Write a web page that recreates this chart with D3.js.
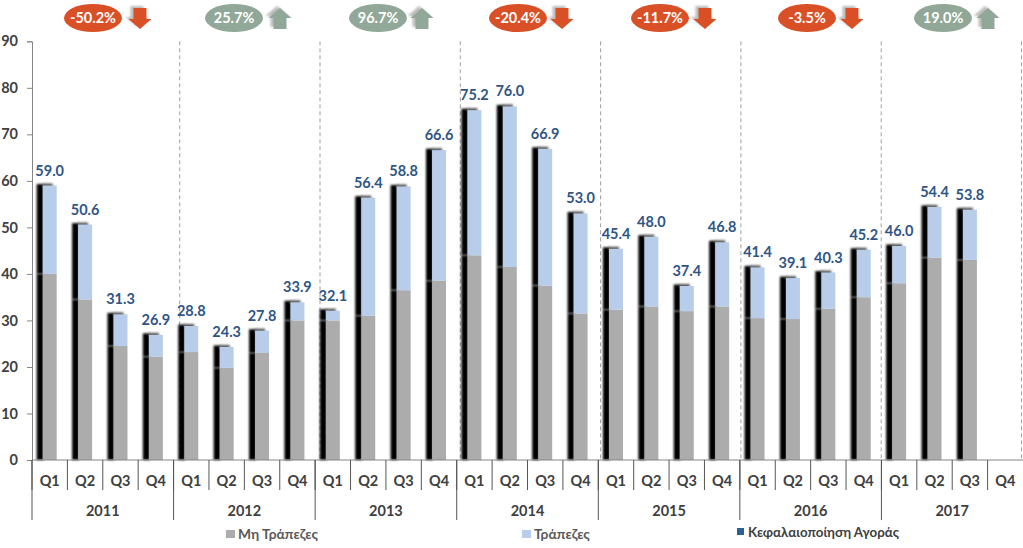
<!DOCTYPE html>
<html>
<head>
  <meta charset="utf-8">
  <title>Κεφαλαιοποίηση Αγοράς</title>
  <script src="https://d3js.org/d3.v7.min.js"></script>
  <style>
    html, body { margin: 0; padding: 0; background: #fff; }
    svg { display: block; }
    text { font-family: Lato, "Noto Sans", sans-serif; font-weight: 700; }
  </style>
</head>
<body>
<script>
  var years = ["2011", "2012", "2013", "2014", "2015", "2016", "2017"];
  var quarters = ["Q1", "Q2", "Q3", "Q4"];

  // one entry per quarter, 2011 Q1 to 2017 Q4 (the last one has no data yet)
  var nonBanks = [40.0, 34.5, 24.5, 22.2, 23.2, 19.8, 23.0, 30.0, 30.0, 31.0, 36.5, 38.5, 44.0, 41.5,
                  37.5, 31.5, 32.3, 33.0, 32.0, 33.0, 30.5, 30.3, 32.5, 35.0, 38.0, 43.5, 43.0, null];
  var banks = [19.0, 16.1, 6.8, 4.7, 5.6, 4.5, 4.8, 3.9, 2.1, 25.4, 22.3, 28.1, 31.2, 34.5,
               29.4, 21.5, 13.1, 15.0, 5.4, 13.8, 10.9, 8.8, 7.8, 10.2, 8.0, 10.9, 10.8, null];
  var totals = [59.0, 50.6, 31.3, 26.9, 28.8, 24.3, 27.8, 33.9, 32.1, 56.4, 58.8, 66.6, 75.2, 76.0,
                66.9, 53.0, 45.4, 48.0, 37.4, 46.8, 41.4, 39.1, 40.3, 45.2, 46.0, 54.4, 53.8, null];

  var yearChanges = ["-50.2%", "25.7%", "96.7%", "-20.4%", "-11.7%", "-3.5%", "19.0%"];
  var yTicks = [0, 10, 20, 30, 40, 50, 60, 70, 80, 90];
  var legendNames = ["Μη Τράπεζες", "Τράπεζες", "Κεφαλαιοποίηση Αγοράς"];

  // the badges were placed by hand in the original, not on the year centres
  var badgeCentres = [93, 234, 378, 518, 660, 807, 943];
  var arrowCentres = [140, 280, 422, 562, 705, 852, 988];

  var width = 1023, height = 548;
  var axisLeft = 32, axisRight = 1023, axisBottom = 460, axisTop = 41.3;
  var RED = "#da5026", GREEN = "#91a898", GREY = "#acacac", BLUE = "#b7cde9", TEXT = "#404040";

  var svg = d3.select("body").append("svg")
    .attr("width", width)
    .attr("height", height);

  var defs = svg.append("defs");
  defs.append("filter").attr("id", "soft")
    .attr("x", "-60%").attr("y", "-40%").attr("width", "220%").attr("height", "180%")
    .append("feGaussianBlur").attr("stdDeviation", 0.9);
  defs.append("filter").attr("id", "softer")
    .attr("x", "-40%").attr("y", "-40%").attr("width", "180%").attr("height", "180%")
    .append("feGaussianBlur").attr("stdDeviation", 1.2);

  var labels = [];
  years.forEach(function(y) {
    quarters.forEach(function(q) { labels.push(y + " " + q); });
  });

  var x = d3.scaleBand().domain(labels).range([axisLeft, axisRight]);
  var yearX = d3.scaleBand().domain(years).range([axisLeft, axisRight]);
  var y = d3.scaleLinear().domain([0, 90]).range([axisBottom, axisTop]);
  // the dashed separators sit a little off the year ticks
  var dashX = d3.scaleLinear().domain([1, 7]).range([179.7, 1021.5]);

  var barWidth = 14, shadowOffset = 6;
  function barLeft(i) { return x(labels[i]) + (x.bandwidth() - barWidth) / 2; }

  // dashed year separators
  svg.append("g").selectAll("line")
    .data(d3.range(1, 8))
    .enter().append("line")
    .attr("x1", function(d) { return dashX(d); })
    .attr("x2", function(d) { return dashX(d); })
    .attr("y1", y(90))
    .attr("y2", y(0))
    .style("stroke", "#a0a0a0")
    .style("stroke-dasharray", "4 3");

  // build the two segments of each stack
  var rows = labels.map(function(l, i) {
    return { i: i, nonBanks: nonBanks[i], banks: banks[i], total: totals[i] };
  }).filter(function(d) { return d.total !== null; });

  var bars = svg.append("g");

  // black shadow to the left, segment by segment so the seam shows
  bars.selectAll(".shadow-low")
    .data(rows).enter().append("rect")
    .attr("class", "shadow-low")
    .attr("x", function(d) { return barLeft(d.i) - shadowOffset; })
    .attr("width", shadowOffset + 1)
    .attr("y", function(d) { return y(d.nonBanks); })
    .attr("height", function(d) { return y(0) - y(d.nonBanks); })
    .attr("filter", "url(#soft)")
    .style("fill", "#000");

  bars.selectAll(".shadow-high")
    .data(rows).enter().append("rect")
    .attr("class", "shadow-high")
    .attr("x", function(d) { return barLeft(d.i) - shadowOffset; })
    .attr("width", shadowOffset + 1)
    .attr("y", function(d) { return y(d.total) - 1.5; })
    .attr("height", function(d) { return y(d.nonBanks) - y(d.total) + 1.5; })
    .attr("filter", "url(#soft)")
    .style("fill", "#000");

  bars.selectAll(".cap")
    .data(rows).enter().append("rect")
    .attr("class", "cap")
    .attr("x", function(d) { return barLeft(d.i); })
    .attr("width", barWidth - 4)
    .attr("y", function(d) { return y(d.total) - 2; })
    .attr("height", 4)
    .attr("filter", "url(#soft)")
    .style("fill", "#555");

  bars.selectAll(".non-banks")
    .data(rows).enter().append("rect")
    .attr("class", "non-banks")
    .attr("x", function(d) { return barLeft(d.i); })
    .attr("width", barWidth)
    .attr("y", function(d) { return y(d.nonBanks); })
    .attr("height", function(d) { return y(0) - y(d.nonBanks); })
    .style("fill", GREY);

  bars.selectAll(".banks")
    .data(rows).enter().append("rect")
    .attr("class", "banks")
    .attr("x", function(d) { return barLeft(d.i); })
    .attr("width", barWidth)
    .attr("y", function(d) { return y(d.total); })
    .attr("height", function(d) { return y(d.nonBanks) - y(d.total); })
    .style("fill", BLUE);

  // totals above the bars
  svg.append("g").selectAll("text")
    .data(rows).enter().append("text")
    .attr("x", function(d) { return x(labels[d.i]) + x.bandwidth() / 2; })
    .attr("y", function(d) { return y(d.total) - 10; })
    .attr("text-anchor", "middle")
    .style("font-size", "14.5px")
    .style("fill", "#2f5585")
    .text(function(d) { return d.total.toFixed(1); });

  // y axis
  var yAxis = svg.append("g")
    .attr("transform", "translate(" + axisLeft + ",0)")
    .call(d3.axisLeft(y).tickValues(yTicks).tickSize(5).tickPadding(9).tickFormat(d3.format("d")));
  yAxis.selectAll("path, line").style("stroke", "#858585");
  yAxis.selectAll("text")
    .style("font-size", "14.5px")
    .style("font-family", "Lato, sans-serif")
    .style("fill", TEXT);

  // x axis: baseline, quarter and year levels
  var xAxis = svg.append("g");
  xAxis.append("line")
    .attr("x1", axisLeft).attr("x2", axisRight)
    .attr("y1", axisBottom).attr("y2", axisBottom)
    .style("stroke", "#858585");

  xAxis.selectAll(".q-tick")
    .data(labels).enter().append("line")
    .attr("class", "q-tick")
    .attr("x1", function(d) { return x(d); })
    .attr("x2", function(d) { return x(d); })
    .attr("y1", axisBottom).attr("y2", axisBottom + 30)
    .style("stroke", "#555");

  xAxis.selectAll(".q-label")
    .data(labels).enter().append("text")
    .attr("class", "q-label")
    .attr("x", function(d) { return x(d) + x.bandwidth() / 2; })
    .attr("y", axisBottom + 25.5)
    .attr("text-anchor", "middle")
    .style("font-size", "14.5px")
    .style("fill", TEXT)
    .text(function(d) { return d.split(" ")[1]; });

  xAxis.selectAll(".y-tick")
    .data(years).enter().append("line")
    .attr("class", "y-tick")
    .attr("x1", function(d) { return yearX(d); })
    .attr("x2", function(d) { return yearX(d); })
    .attr("y1", axisBottom).attr("y2", axisBottom + 60)
    .style("stroke", "#555");

  xAxis.selectAll(".y-label")
    .data(years).enter().append("text")
    .attr("class", "y-label")
    .attr("x", function(d) { return yearX(d) + yearX.bandwidth() / 2; })
    .attr("y", axisBottom + 56)
    .attr("text-anchor", "middle")
    .style("font-size", "14.5px")
    .style("fill", TEXT)
    .text(function(d) { return d; });

  // yearly change badges and arrows
  var badges = svg.append("g").selectAll("g")
    .data(yearChanges).enter().append("g");

  badges.append("ellipse")
    .attr("cx", function(d, i) { return badgeCentres[i]; })
    .attr("cy", 18)
    .attr("rx", 29)
    .attr("ry", 14)
    .style("fill", function(d) { return d.charAt(0) === "-" ? RED : GREEN; });

  badges.append("text")
    .attr("x", function(d, i) { return badgeCentres[i]; })
    .attr("y", 23)
    .attr("text-anchor", "middle")
    .style("font-size", "14.5px")
    .style("fill", "#fff")
    .text(function(d) { return d; });

  function arrowPath(cx, down) {
    var tip = down ? 29 : 8, neck = down ? 19 : 18, end = down ? 8 : 29;
    return d3.line()([
      [cx - 6.5, end], [cx + 6.5, end], [cx + 6.5, neck], [cx + 11.5, neck],
      [cx, tip], [cx - 11.5, neck], [cx - 6.5, neck]
    ]) + "Z";
  }

  badges.append("path")
    .attr("d", function(d, i) { return arrowPath(arrowCentres[i], d.charAt(0) === "-"); })
    .attr("transform", "translate(-3,-2)")
    .attr("filter", "url(#softer)")
    .style("fill", "#bbb");

  badges.append("path")
    .attr("d", function(d, i) { return arrowPath(arrowCentres[i], d.charAt(0) === "-"); })
    .style("fill", function(d) { return d.charAt(0) === "-" ? RED : GREEN; });

  // legend
  var legendSwatch = [[226, 530, GREY], [522, 530, BLUE], [737, 528, "#2e5f99"]];
  var legend = svg.append("g").selectAll("g")
    .data(legendNames).enter().append("g");

  legend.append("rect")
    .attr("x", function(d, i) { return legendSwatch[i][0]; })
    .attr("y", function(d, i) { return legendSwatch[i][1]; })
    .attr("width", function(d, i) { return i === 2 ? 7 : 9; })
    .attr("height", function(d, i) { return i === 2 ? 7 : 8; })
    .style("fill", function(d, i) { return legendSwatch[i][2]; });

  legend.append("text")
    .attr("x", function(d, i) { return legendSwatch[i][0] + (i === 2 ? 11 : 12); })
    .attr("y", function(d, i) { return legendSwatch[i][1] + 8.5; })
    .style("font-size", function(d, i) { return i === 2 ? "13.3px" : "13.8px"; })
    .style("fill", function(d, i) { return i === 2 ? TEXT : "#595959"; })
    .text(function(d) { return d; });
</script>
</body>
</html>
